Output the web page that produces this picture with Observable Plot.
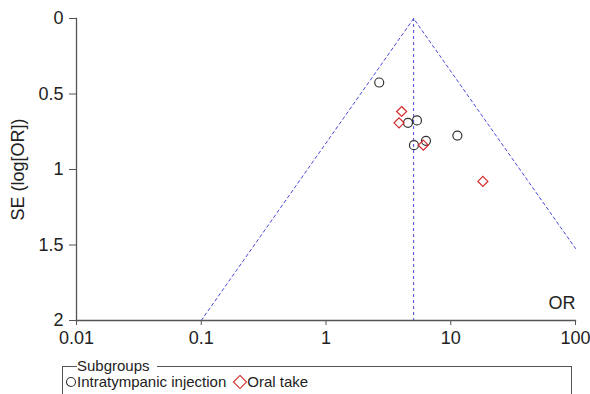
<!DOCTYPE html>
<html>
<head>
<meta charset="utf-8">
<script src="https://cdn.jsdelivr.net/npm/d3@7"></script>
<script src="https://cdn.jsdelivr.net/npm/@observablehq/plot@0.6"></script>
<style>
  html, body { margin: 0; padding: 0; background: #fff; overflow: hidden; }
  body { width: 590px; height: 394px; position: relative; font-family: "Liberation Sans", Arial, sans-serif; }
  #chart { position: absolute; left: 0; top: 0; }
  fieldset {
    position: absolute; left: 62px; top: 358px; width: 510px; height: 60px;
    margin: 0; padding: 0 0 0 2px; border: 1px solid #555; box-sizing: border-box;
  }
  legend { font-size: 15px; color: #222; padding: 0 7px 0 0; margin-left: 12px; line-height: 16px; }
  .items { display: flex; align-items: center; font-size: 15px; line-height: 16px; color: #222; margin-top: 0px; }
  .items span { margin-right: 5px; }
  .items svg { display: block; }
</style>
</head>
<body>
<div id="chart"></div>
<fieldset><legend>Subgroups</legend><div class="items" id="items"></div></fieldset>
<script>
// Data
const intraOR = [2.67, 4.54, 5.36, 5.07, 6.33, 11.3];
const intraSE = [0.424, 0.691, 0.675, 0.839, 0.81, 0.775];
const oralOR = [4.04, 3.85, 6.03, 18.1];
const oralSE = [0.616, 0.691, 0.839, 1.079];
const pooledOR = 5.04;
const funnelOR = [0.1, 5.04, 100];
const funnelSE = [2, 0, 1.523];
const xTicks = [0.01, 0.1, 1, 10, 100];
const yTicks = [0, 0.5, 1, 1.5, 2];
const groupNames = ["Intratympanic injection", "Oral take"];
const groupColors = ["#333333", "#d42a2a"];

const intra = intraOR.map((v, i) => ({or: v, se: intraSE[i]}));
const oral = oralOR.map((v, i) => ({or: v, se: oralSE[i]}));
const funnel = funnelOR.map((v, i) => ({or: v, se: funnelSE[i]}));
const dashColor = "#4a4ad8";

const chart = Plot.plot({
  width: 590, height: 360,
  marginLeft: 76, marginRight: 15, marginTop: 18, marginBottom: 40,
  style: {fontFamily: "Liberation Sans, Arial, sans-serif", fontSize: "18px", color: "#222", background: "#fff"},
  x: {type: "log", domain: [0.01, 100]},
  y: {domain: [0, 2], reverse: true},
  marks: [
    Plot.line(funnel, {x: "or", y: "se", stroke: dashColor, strokeWidth: 1, strokeDasharray: "3,3"}),
    Plot.ruleX([pooledOR], {stroke: dashColor, strokeWidth: 1, strokeDasharray: "3,3"}),
    Plot.frame({anchor: "left", stroke: "#555", strokeWidth: 1.3}),
    Plot.frame({anchor: "bottom", stroke: "#555", strokeWidth: 1.3}),
    Plot.axisY({ticks: yTicks, tickFormat: d => String(d), tickSize: 7, tickPadding: 6, label: null, stroke: "#555", fontSize: 18}),
    Plot.axisX({ticks: xTicks, tickFormat: d => String(d), tickSize: 5, tickPadding: 6, label: null, stroke: "#555", fontSize: 18}),
    Plot.text(["SE (log[OR])"], {frameAnchor: "left", dx: -58, rotate: -90, textAnchor: "middle", fontSize: 18, fill: "#222"}),
    Plot.text(["OR"], {frameAnchor: "bottom-right", textAnchor: "end", dy: -12, fontSize: 18, fill: "#222"}),
    Plot.dot(intra, {x: "or", y: "se", r: 4.5, symbol: "circle", stroke: groupColors[0], strokeWidth: 1.2}),
    Plot.dot(oral, {x: "or", y: "se", r: 4.5, symbol: "diamond2", stroke: groupColors[1], strokeWidth: 1.2})
  ]
});
document.getElementById("chart").append(chart);

// HTML legend
const items = document.getElementById("items");
const symbols = ["circle", "diamond"];
groupNames.forEach((name, i) => {
  const s = d3.create("svg").attr("width", i === 0 ? 12 : 16).attr("height", 16);
  const cx = i === 0 ? 6 : 9;
  if (symbols[i] === "circle") {
    s.append("circle").attr("cx", cx).attr("cy", 8).attr("r", 4.5).attr("fill", "none").attr("stroke", groupColors[i]).attr("stroke-width", 1.1);
  } else {
    s.append("path").attr("d", d3.symbol(d3.symbolDiamond2, 110)()).attr("transform", `translate(${cx},8)`).attr("fill", "none").attr("stroke", groupColors[i]).attr("stroke-width", 1.1);
  }
  items.append(s.node());
  const t = document.createElement("span");
  t.textContent = name;
  items.append(t);
});
</script>
</body>
</html>
